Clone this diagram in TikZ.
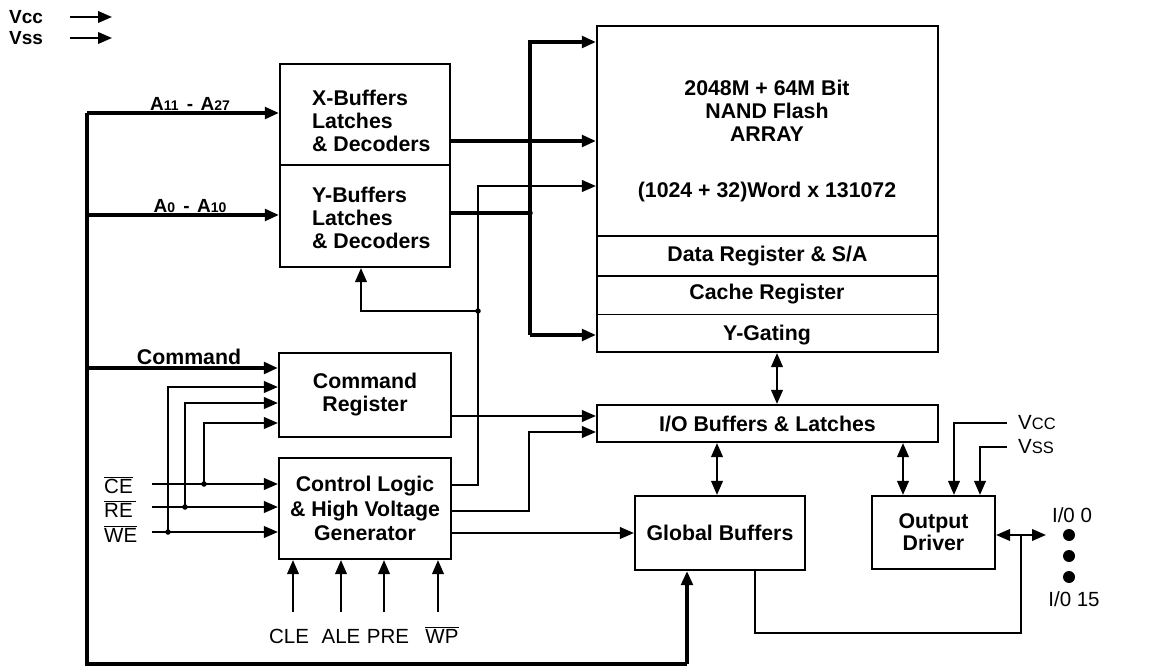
\documentclass[tikz,border=0pt]{standalone}
\usepackage{fontspec}
\setmainfont{Liberation Sans}
\usetikzlibrary{arrows.meta,calc}
\begin{document}
\begin{tikzpicture}[x=1pt,y=-1pt,
  >={Triangle[length=14pt,width=11.5pt]},
  box/.style={draw,line width=2.1pt,inner sep=0pt,align=center,font=\bfseries\fontsize{21.3}{23}\selectfont},
  thk/.style={line width=3.4pt},
  thn/.style={line width=2.2pt},
  lbl/.style={inner sep=0pt,align=center,font=\bfseries\fontsize{21.3}{23}\selectfont},
  slbl/.style={inner sep=0pt,font=\bfseries\fontsize{19}{20}\selectfont},
  rlbl/.style={inner sep=0pt,font=\fontsize{20.5}{22}\selectfont},
  jdot/.style={circle,fill,inner sep=0pt,minimum size=5.5pt},
  bigdot/.style={circle,fill,inner sep=0pt,minimum size=12pt}]
\useasboundingbox (0,0) rectangle (1157,668);

% ---------- boxes ----------
\node[box,minimum width=170,minimum height=101] (xb) at (365,114.5) {};
\node[box,minimum width=170,minimum height=102] (yb) at (365,216) {};
\node[lbl,align=left,anchor=west] (xbt) at (312,121) {X-Buffers\\Latches\\\& Decoders};
\node[lbl,align=left,anchor=west] (ybt) at (312,218) {Y-Buffers\\Latches\\\& Decoders};

\node[box,minimum width=341,minimum height=210] (arr) at (767.5,131) {};
\node[box,minimum width=341,minimum height=40] (dr) at (767.5,256) {};
\node[box,minimum width=341,minimum height=76] (cy) at (767.5,314) {};
\coordinate (cyl) at (0,315);
\draw[line width=1pt] (cy.west |- cyl) -- (cy.east |- cyl);
\node[lbl] (arrt) at (767,111) {2048M + 64M Bit\\NAND Flash\\ARRAY};
\node[lbl] (arrw) at (767,192) {(1024 + 32)Word x 131072};
\node[lbl] (drt) at (dr) {Data Register \& S/A};
\node[lbl] (crt) at (767,294) {Cache Register};
\node[lbl] (ygt) at (767,335) {Y-Gating};

\node[box,minimum width=172,minimum height=84] (cr) at (365,395) {Command\\Register};
\node[box,minimum width=172,minimum height=101,font=\bfseries\fontsize{21.3}{24.5}\selectfont] (ctl) at (365,508.5) {Control Logic\\\& High Voltage\\Generator};
\node[box,minimum width=341,minimum height=37] (io) at (767.5,423.5) {I/O Buffers \& Latches};
\node[box,minimum width=170,minimum height=74] (gb) at (720,533) {Global Buffers};
\node[box,minimum width=123,minimum height=73,font=\bfseries\fontsize{21.3}{22}\selectfont] (od) at (933.5,532.5) {Output\\Driver};

% ---------- top-left supply ----------
\node[slbl,anchor=west] (vcct) at (9,17) {Vcc};
\node[slbl,anchor=west] (vsst) at (9,38) {Vss};
\coordinate (va1) at (70,17); \coordinate (va2) at (112,17);
\coordinate (vb1) at (70,38); \coordinate (vb2) at (112,38);
\draw[thn,->] (va1) -- (va2);
\draw[thn,->] (vb1) -- (vb2);

% ---------- left bus ----------
\coordinate (ba) at (87,113);
\coordinate (bb) at (87,215);
\coordinate (bc) at (87,368);
\coordinate (bd) at (87,664);
\coordinate (be) at (687,664);
\draw[thk] (ba) -- (bd) -- (be);
\draw[thk,->] (be) -- (be |- gb.south);
\draw[thk,->] (ba) -- (ba -| xb.west);
\draw[thk,->] (bb) -- (bb -| yb.west);
\draw[thk,->] (bc) -- (bc -| cr.west);
\node[slbl] (la) at (190,104) {A{\fontsize{14}{14}\selectfont 11}\hspace{3pt} - \hspace{2pt}A{\fontsize{14}{14}\selectfont 27}};
\node[slbl] (lb) at (190,206.5) {A{\fontsize{14}{14}\selectfont 0}\hspace{3pt} - \hspace{2pt}A{\fontsize{14}{14}\selectfont 10}};
\node[lbl] (lc) at (189,357) {Command};

% ---------- array bus ----------
\coordinate (bt) at (530,42);
\coordinate (bm) at (530,213);
\coordinate (bbot) at (530,335);
\coordinate (xo) at (0,141);
\draw[thk,->] (bbot) -- (bt) -- (bt -| arr.west);
\draw[thk,->] (bbot) -- (bbot -| cy.west);
\draw[thk,->] (xb.east |- xo) -- (arr.west |- xo);
\draw[thk] (yb.east |- bm) -- (bm);
\node[jdot] (dbm) at (bm) {};

% ---------- control logic outputs ----------
\coordinate (o1) at (478,485);
\coordinate (o1t) at (478,186);
\coordinate (o1j) at (478,311);
\coordinate (o1l) at (361,311);
\draw[thn,->] (ctl.east |- o1) -- (o1) -- (o1t) -- (o1t -| arr.west);
\draw[thn,->] (o1j) -- (o1l) -- (o1l |- yb.south);
\node[jdot] (do1) at (o1j) {};

\coordinate (o2) at (529,511);
\coordinate (o2t) at (529,432);
\draw[thn,->] (ctl.east |- o2) -- (o2) -- (o2t) -- (o2t -| io.west);
\draw[thn,->] (ctl.east |- gb.west) -- (gb.west);
\coordinate (co) at (0,416);
\draw[thn,->] (cr.east |- co) -- (io.west |- co);

% ---------- control inputs ----------
\coordinate (ce) at (152,484);
\coordinate (re) at (152,507);
\coordinate (we) at (152,532);
\coordinate (j1) at (204,484);
\coordinate (j2) at (185,507);
\coordinate (j3) at (168,532);
\coordinate (k1) at (204,423);
\coordinate (k2) at (185,403);
\coordinate (k3) at (168,387);
\draw[thn,->] (ce) -- (ce -| ctl.west);
\draw[thn,->] (re) -- (re -| ctl.west);
\draw[thn,->] (we) -- (we -| ctl.west);
\draw[thn,->] (j1) -- (k1) -- (k1 -| cr.west);
\draw[thn,->] (j2) -- (k2) -- (k2 -| cr.west);
\draw[thn,->] (j3) -- (k3) -- (k3 -| cr.west);
\node[jdot] (dj1) at (j1) {};
\node[jdot] (dj2) at (j2) {};
\node[jdot] (dj3) at (j3) {};
\node[rlbl,anchor=base west] (lce) at (104,493) {$\overline{\mbox{CE}}$};
\node[rlbl,anchor=base west] (lre) at (104,517) {$\overline{\mbox{RE}\,}$};
\node[rlbl,anchor=base west] (lwe) at (104,542) {$\overline{\mbox{WE}}$};

\coordinate (p1) at (293,612);
\coordinate (p2) at (341,612);
\coordinate (p3) at (384,612);
\coordinate (p4) at (438,612);
\draw[thn,->] (p1) -- (p1 |- ctl.south);
\draw[thn,->] (p2) -- (p2 |- ctl.south);
\draw[thn,->] (p3) -- (p3 |- ctl.south);
\draw[thn,->] (p4) -- (p4 |- ctl.south);
\node[rlbl,anchor=base] (lcle) at (289,643) {CLE};
\node[rlbl,anchor=base] (lale) at (341,643) {ALE};
\node[rlbl,anchor=base] (lpre) at (388,643) {PRE};
\node[rlbl,anchor=base] (lwp) at (442,643) {$\overline{\mbox{WP}}$};

% ---------- I/O section ----------
\coordinate (m1) at (777,0);
\coordinate (m2) at (717,0);
\coordinate (m3) at (903,0);
\draw[thn,<->] (m1 |- cy.south) -- (m1 |- io.north);
\draw[thn,<->] (m2 |- io.south) -- (m2 |- gb.north);
\draw[thn,<->] (m3 |- io.south) -- (m3 |- od.north);

\coordinate (vcc) at (1007,423);
\coordinate (vss) at (1007,447);
\coordinate (vx) at (954,0);
\coordinate (vy) at (980,0);
\draw[thn,->] (vcc) -| (vx |- od.north);
\draw[thn,->] (vss) -| (vy |- od.north);
\node[rlbl,anchor=west] (lvcc) at (1018,423) {V{\fontsize{16.5}{16}\selectfont CC}};
\node[rlbl,anchor=west] (lvss) at (1018,447) {V{\fontsize{16.5}{16}\selectfont SS}};

\coordinate (ioe) at (1046,535);
\coordinate (jo) at (1021,535);
\coordinate (lo1) at (1021,633);
\coordinate (lo2) at (755,633);
\draw[thn,<->] (ioe -| od.east) -- (ioe);
\draw[thn] (jo) -- (lo1) -- (lo2) -- (lo2 |- gb.south);
\node[bigdot] (d1) at (1069,535) {};
\node[bigdot] (d2) at (1069,556) {};
\node[bigdot] (d3) at (1069,577) {};
\node[rlbl] (lio0) at (1072,515) {I/0 0};
\node[rlbl] (lio15) at (1074,599) {I/0 15};
\end{tikzpicture}
\end{document}
